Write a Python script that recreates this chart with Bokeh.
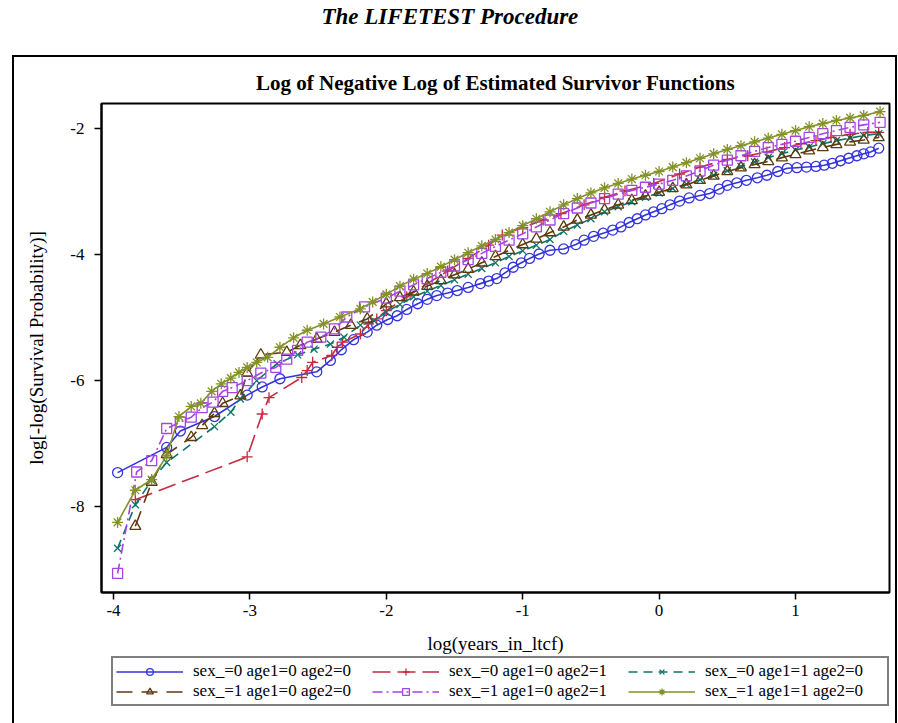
from bokeh.plotting import figure
from bokeh.layouts import column
from bokeh.models import Legend, LegendItem, Title, FixedTicker, Range1d, InlineStyleSheet
from bokeh.embed import file_html
from bokeh.resources import INLINE

FONT = "Liberation Serif"

# ---- data ----
series_labels = ["sex_=0 age1=0 age2=0", "sex_=0 age1=0 age2=1", "sex_=0 age1=1 age2=0",
                 "sex_=1 age1=0 age2=0", "sex_=1 age1=0 age2=1", "sex_=1 age1=1 age2=0"]

g1_x = [-3.97, -3.61, -3.51, -3.26, -3.02, -2.91, -2.78, -2.51, -2.41, -2.33, -2.24, -2.14, -2.07, -1.99,
        -1.92, -1.85, -1.77, -1.70, -1.63, -1.55, -1.48, -1.40, -1.31, -1.25, -1.19, -1.13, -1.07, -1.01,
        -0.95, -0.88, -0.80, -0.70, -0.61, -0.55, -0.48, -0.41, -0.34, -0.28, -0.22, -0.16, -0.10, -0.04,
        0.02, 0.08, 0.15, 0.22, 0.30, 0.37, 0.44, 0.50, 0.57, 0.64, 0.72, 0.79, 0.87, 0.94, 1.01, 1.08,
        1.15, 1.21, 1.27, 1.33, 1.39, 1.45, 1.50, 1.55, 1.61]
g1_y = [-7.47, -7.07, -6.81, -6.58, -6.24, -6.11, -5.98, -5.87, -5.69, -5.52, -5.36, -5.24, -5.13, -5.04,
        -4.98, -4.88, -4.79, -4.72, -4.66, -4.62, -4.58, -4.53, -4.47, -4.43, -4.39, -4.30, -4.21, -4.14,
        -4.07, -4.00, -3.94, -3.92, -3.85, -3.78, -3.72, -3.67, -3.62, -3.57, -3.50, -3.44, -3.38, -3.33,
        -3.28, -3.22, -3.16, -3.11, -3.07, -3.04, -2.97, -2.91, -2.87, -2.83, -2.79, -2.75, -2.69, -2.64,
        -2.63, -2.62, -2.61, -2.59, -2.56, -2.52, -2.48, -2.44, -2.41, -2.38, -2.32]

g2_x = [-3.84, -3.02, -2.91, -2.86, -2.62, -2.58, -2.54, -2.40, -2.36, -2.32, -2.19, -2.13, -2.07, -2.00,
        -1.85, -1.70, -1.55, -1.40, -1.25, -1.15, -1.00, -0.85, -0.72, -0.55, -0.40, -0.25, -0.04, 0.15,
        0.30, 0.50, 0.65, 0.79, 0.92, 1.04, 1.15, 1.26, 1.40, 1.53, 1.61]
g2_y = [-7.90, -7.22, -6.54, -6.28, -5.96, -5.85, -5.72, -5.61, -5.48, -5.40, -5.27, -5.11, -5.03, -4.90,
        -4.68, -4.47, -4.27, -4.07, -3.86, -3.70, -3.58, -3.46, -3.36, -3.22, -3.10, -3.00, -2.88, -2.73,
        -2.62, -2.50, -2.44, -2.38, -2.31, -2.25, -2.20, -2.15, -2.10, -2.07, -2.07]

g3_x = [-3.97, -3.84, -3.72, -3.61, -3.26, -3.14, -3.07, -2.95, -2.80, -2.65, -2.53, -2.41, -2.31, -2.19,
        -2.09, -2.00, -1.90, -1.80, -1.70, -1.60, -1.50, -1.40, -1.30, -1.20, -1.10, -1.00, -0.90, -0.80,
        -0.70, -0.60, -0.50, -0.40, -0.30, -0.20, -0.10, 0.00, 0.10, 0.20, 0.30, 0.40, 0.50, 0.60, 0.70,
        0.80, 0.90, 1.00, 1.10, 1.20, 1.30, 1.40, 1.50, 1.61]
g3_y = [-8.67, -7.98, -7.59, -7.31, -6.74, -6.51, -6.30, -6.01, -5.74, -5.60, -5.51, -5.43, -5.32, -5.13,
        -5.06, -4.92, -4.80, -4.68, -4.59, -4.50, -4.41, -4.32, -4.23, -4.14, -4.04, -3.95, -3.86, -3.77,
        -3.64, -3.54, -3.44, -3.33, -3.25, -3.17, -3.10, -3.03, -2.96, -2.89, -2.82, -2.75, -2.68, -2.61,
        -2.54, -2.47, -2.41, -2.35, -2.30, -2.25, -2.20, -2.16, -2.12, -2.09]

g4_x = [-3.84, -3.72, -3.61, -3.43, -3.35, -3.26, -3.20, -3.07, -3.02, -2.92, -2.73, -2.63, -2.51, -2.38,
        -2.26, -2.14, -2.00, -1.90, -1.80, -1.70, -1.60, -1.50, -1.40, -1.30, -1.20, -1.10, -1.00, -0.90,
        -0.80, -0.70, -0.60, -0.50, -0.40, -0.30, -0.20, -0.10, 0.00, 0.10, 0.20, 0.30, 0.40, 0.50, 0.60,
        0.70, 0.80, 0.90, 1.00, 1.10, 1.20, 1.30, 1.40, 1.50, 1.61]
g4_y = [-8.32, -7.62, -7.18, -6.91, -6.72, -6.53, -6.37, -6.25, -5.89, -5.60, -5.56, -5.45, -5.35, -5.24,
        -5.13, -5.03, -4.79, -4.69, -4.60, -4.51, -4.42, -4.33, -4.24, -4.14, -4.04, -3.94, -3.85, -3.76,
        -3.66, -3.57, -3.46, -3.38, -3.30, -3.22, -3.15, -3.08, -3.02, -2.96, -2.90, -2.83, -2.76, -2.69,
        -2.63, -2.58, -2.53, -2.47, -2.42, -2.36, -2.31, -2.26, -2.22, -2.19, -2.15]

g5_x = [-3.97, -3.83, -3.72, -3.61, -3.51, -3.43, -3.35, -3.27, -3.20, -3.13, -3.02, -2.92, -2.81, -2.73,
        -2.65, -2.58, -2.48, -2.38, -2.29, -2.16, -2.00, -1.90, -1.80, -1.70, -1.60, -1.50, -1.40, -1.30,
        -1.20, -1.10, -1.00, -0.90, -0.80, -0.70, -0.60, -0.50, -0.40, -0.30, -0.20, -0.10, 0.00, 0.10,
        0.20, 0.30, 0.40, 0.50, 0.60, 0.70, 0.80, 0.90, 1.00, 1.10, 1.20, 1.30, 1.40, 1.50, 1.62]
g5_y = [-9.07, -7.46, -7.28, -6.77, -6.67, -6.59, -6.44, -6.35, -6.18, -6.12, -6.01, -5.89, -5.80, -5.67,
        -5.53, -5.40, -5.32, -5.19, -5.00, -4.84, -4.70, -4.59, -4.49, -4.39, -4.29, -4.19, -4.09, -3.99,
        -3.88, -3.78, -3.68, -3.57, -3.46, -3.36, -3.27, -3.19, -3.12, -3.05, -2.99, -2.94, -2.89, -2.83,
        -2.76, -2.68, -2.59, -2.51, -2.44, -2.37, -2.31, -2.26, -2.21, -2.15, -2.09, -2.04, -1.99, -1.95, -1.91]

g6_x = [-3.97, -3.84, -3.72, -3.61, -3.52, -3.43, -3.36, -3.28, -3.21, -3.14, -3.08, -3.02, -2.95, -2.87,
        -2.78, -2.68, -2.58, -2.46, -2.34, -2.19, -2.10, -2.00, -1.90, -1.80, -1.70, -1.60, -1.50, -1.40,
        -1.30, -1.20, -1.10, -1.00, -0.90, -0.80, -0.70, -0.60, -0.50, -0.40, -0.30, -0.20, -0.10, 0.00,
        0.10, 0.20, 0.30, 0.40, 0.50, 0.60, 0.70, 0.80, 0.90, 1.00, 1.10, 1.20, 1.30, 1.40, 1.50, 1.62]
g6_y = [-8.26, -7.75, -7.58, -7.20, -6.58, -6.42, -6.37, -6.18, -6.06, -5.97, -5.88, -5.80, -5.72, -5.64,
        -5.48, -5.33, -5.21, -5.11, -5.00, -4.87, -4.76, -4.64, -4.51, -4.40, -4.31, -4.20, -4.09, -3.98,
        -3.87, -3.77, -3.66, -3.55, -3.44, -3.33, -3.22, -3.12, -3.03, -2.95, -2.88, -2.81, -2.75, -2.69,
        -2.62, -2.55, -2.48, -2.41, -2.34, -2.28, -2.22, -2.16, -2.10, -2.04, -1.98, -1.93, -1.88, -1.84,
        -1.80, -1.74]

x_ticks = [-4, -3, -2, -1, 0, 1]
y_ticks = [-8, -6, -4, -2]

# ---- styles ----
colors = ["#3434DC", "#C42A40", "#0E7468", "#5C3A0E", "#A444E6", "#84922A"]
markers = ["circle", "cross", "x", "triangle", "square", "asterisk"]
msizes = [10, 11, 10, 11, 10, 11]
dashes = ["solid", "18 7", "9 6", "16 9", "10 4 2 4", "solid"]


def blank(fig):
    fig.outline_line_color = None
    fig.grid.visible = False
    fig.background_fill_color = "white"
    fig.border_fill_color = "white"


# ---- page title strip ----
head = figure(width=898, height=55, output_backend="svg", toolbar_location=None,
              x_axis_type=None, y_axis_type=None, min_border=0,
              x_range=Range1d(0, 1), y_range=Range1d(0, 1), title="The LIFETEST Procedure")
blank(head)
head.title.text_font = FONT
head.title.text_font_size = "23px"
head.title.text_font_style = "bold italic"
head.title.align = "left"
head.title.offset = 220
head.title.standoff = 3
head.title.text_color = "black"

# ---- main chart ----
p = figure(frame_width=788, frame_height=489, output_backend="svg", toolbar_location=None,
           x_range=Range1d(-4.088, 1.689), y_range=Range1d(-9.373, -1.611),
           title="Log of Negative Log of Estimated Survivor Functions",
           min_border_left=101, min_border_right=9, min_border_top=48, min_border_bottom=38)
p.background_fill_color = "white"
p.border_fill_color = "white"
p.outline_line_color = "black"
p.outline_line_width = 2
p.grid.visible = False
p.title.text_font = FONT
p.title.text_font_size = "21px"
p.title.text_font_style = "bold"
p.title.align = "center"
p.title.standoff = 18
p.title.text_color = "black"

p.xaxis.ticker = FixedTicker(ticks=x_ticks)
p.yaxis.ticker = FixedTicker(ticks=y_ticks)
p.xaxis.major_label_overrides = {t: str(t) for t in x_ticks}
p.yaxis.major_label_overrides = {t: str(t) for t in y_ticks}
p.yaxis.axis_label = "log[-log(Survival Probability)]"
for ax in (p.xaxis, p.yaxis):
    ax.axis_line_width = 2
    ax.axis_line_color = "black"
    ax.major_tick_line_width = 1.5
    ax.major_tick_line_color = "black"
    ax.major_tick_out = 7
    ax.major_tick_in = 0
    ax.minor_tick_line_color = None
    ax.major_label_text_font = FONT
    ax.major_label_text_font_size = "17px"
    ax.major_label_text_color = "black"
    ax.axis_label_text_font = FONT
    ax.axis_label_text_font_size = "19px"
    ax.axis_label_text_font_style = "normal"
    ax.axis_label_text_color = "black"
p.xaxis.major_label_standoff = 5
p.yaxis.major_label_standoff = 10
p.yaxis.axis_label_standoff = 20

xs = [g1_x, g2_x, g3_x, g4_x, g5_x, g6_x]
ys = [g1_y, g2_y, g3_y, g4_y, g5_y, g6_y]
for i in range(6):
    p.line(xs[i], ys[i], line_color=colors[i], line_width=1.6, line_dash=dashes[i])
    p.scatter(xs[i], ys[i], marker=markers[i], size=msizes[i], line_color=colors[i],
              fill_color=None, line_width=1.3)

# ---- x-axis title + legend strip below the chart (swatch renderers hold no visible points) ----
nan = float("nan")
leg = figure(width=898, height=93, output_backend="svg", toolbar_location=None,
             x_axis_type=None, y_axis_type=None, min_border=0,
             x_range=Range1d(0, 1), y_range=Range1d(0, 1), title="log(years_in_ltcf)")
blank(leg)
leg.title.text_font = FONT
leg.title.text_font_size = "19px"
leg.title.text_font_style = "normal"
leg.title.align = "center"
leg.title.standoff = 0
leg.title.text_color = "black"
items = []
for i in range(6):
    lr = leg.line(x=[nan, nan], y=[nan, nan], line_color=colors[i], line_width=1.6, line_dash=dashes[i])
    sr = leg.scatter(x=[nan], y=[nan], marker=markers[i], size=msizes[i], line_color=colors[i],
                     fill_color=None, line_width=1.3)
    items.append(LegendItem(label=series_labels[i], renderers=[lr, sr]))

# column-major fill: (0,3) (1,4) (2,5) gives rows 0-1-2 / 3-4-5
legend_order = [0, 3, 1, 4, 2, 5]
legend = Legend(items=[items[k] for k in legend_order], orientation="vertical", nrows=2,
                location=(10, 17),
                glyph_width=67, glyph_height=17, label_height=17, label_width=179,
                label_standoff=10, spacing=0, padding=3, margin=0,
                label_text_font=FONT, label_text_font_size="17px", label_text_color="black",
                border_line_color="black", border_line_width=2, background_fill_color="white",
                background_fill_alpha=1.0)
leg.add_layout(legend)

page = column(head, p, leg, spacing=0)
box_css = InlineStyleSheet(css=""":host { position: relative; }
:host::after { content: ''; position: absolute; left: 12px; top: 55px; width: 885px; height: 668px;
  border: 2px solid black; border-bottom: none; box-sizing: border-box; pointer-events: none; }""")
page.stylesheets = [box_css]

open("out.html", "w").write(file_html(page, INLINE))
